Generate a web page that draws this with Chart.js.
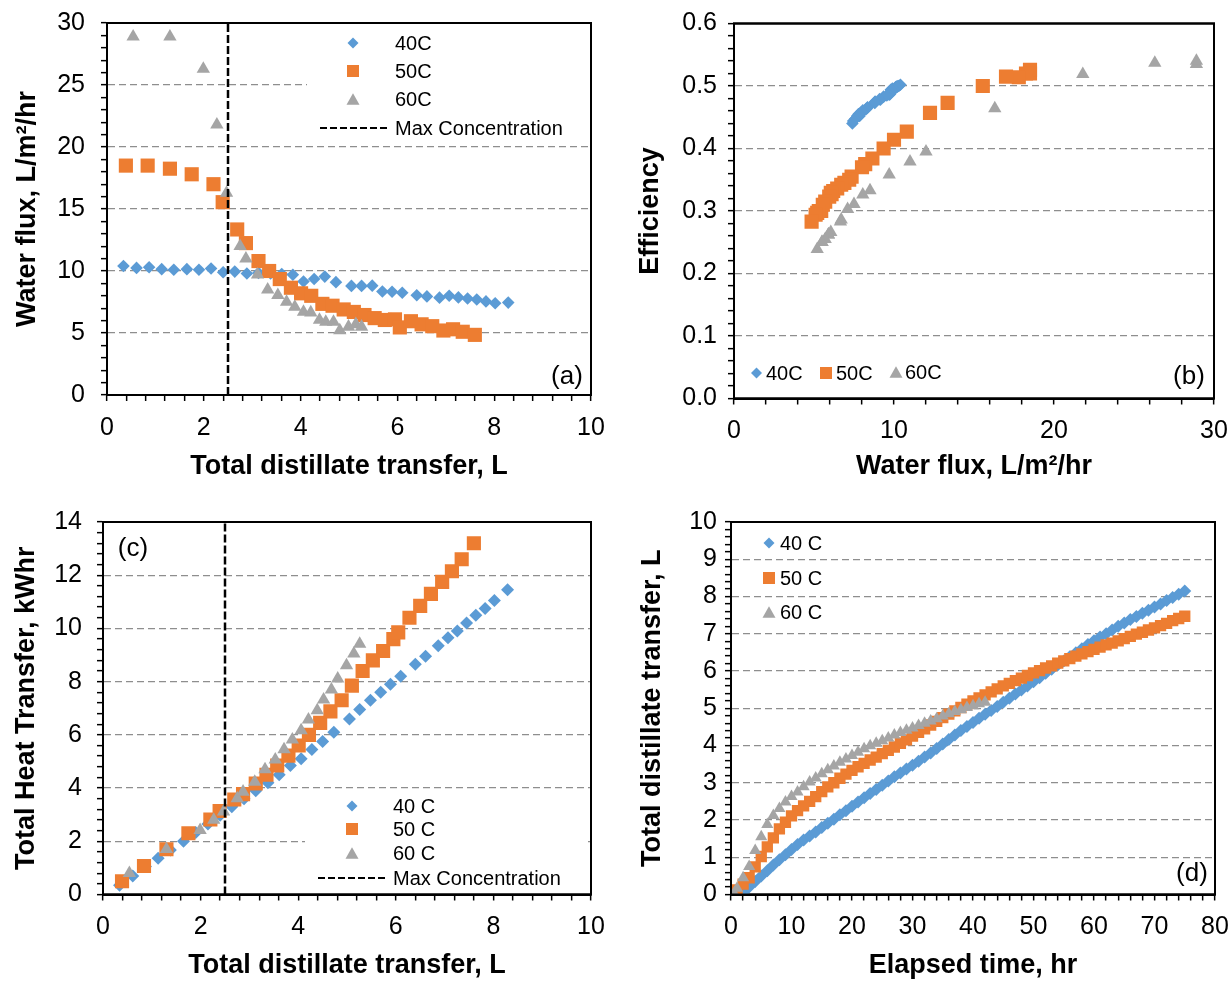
<!DOCTYPE html>
<html><head><meta charset="utf-8">
<script src="https://cdn.jsdelivr.net/npm/chart.js@4.4.1/dist/chart.umd.min.js"></script>
<style>
html,body{margin:0;padding:0;background:#fff;}
body{width:1231px;height:981px;position:relative;overflow:hidden;}
canvas{position:absolute;}
</style></head><body>
<canvas id="pa"></canvas><canvas id="pb"></canvas><canvas id="pc"></canvas><canvas id="pd"></canvas>
<script>
// ---------------- DATA ----------------
// Panels (a),(b),(c): one point per sample
const dist40 = [0.34,0.61,0.87,1.13,1.38,1.65,1.90,2.15,2.40,2.64,2.89,3.13,3.38,3.61,3.84,4.06,4.28,4.50,4.73,5.05,5.26,5.48,5.69,5.89,6.10,6.40,6.61,6.87,7.07,7.26,7.45,7.64,7.83,8.02,8.29];
const flux40 = [10.4,10.25,10.3,10.15,10.1,10.15,10.1,10.2,9.9,9.95,9.8,9.85,9.8,9.75,9.7,9.15,9.35,9.55,9.1,8.8,8.8,8.82,8.35,8.33,8.25,8.05,7.95,7.85,8.0,7.87,7.78,7.7,7.55,7.4,7.45];
const heat40 = [0.35,0.7,1.05,1.36,1.67,2.0,2.33,2.65,2.98,3.3,3.6,3.9,4.2,4.5,4.85,5.1,5.45,5.75,6.1,6.6,6.95,7.3,7.6,7.9,8.2,8.65,8.95,9.35,9.65,9.9,10.2,10.5,10.75,11.05,11.45];
const eff40  = [0.502,0.5,0.5,0.499,0.498,0.498,0.497,0.499,0.496,0.495,0.494,0.493,0.49,0.487,0.486,0.478,0.483,0.485,0.479,0.474,0.473,0.475,0.466,0.465,0.463,0.461,0.458,0.452,0.458,0.455,0.455,0.452,0.447,0.44,0.444];

const dist50 = [0.39,0.84,1.30,1.75,2.20,2.39,2.69,2.87,3.13,3.35,3.57,3.80,4.01,4.22,4.45,4.66,4.89,5.10,5.32,5.53,5.74,5.95,6.05,6.28,6.50,6.72,6.95,7.15,7.35,7.60];
const flux50 = [18.5,18.5,18.25,17.8,17.0,15.55,13.35,12.25,10.8,10.0,9.35,8.65,8.2,8.0,7.35,7.2,6.9,6.7,6.45,6.2,6.05,6.1,5.45,5.95,5.7,5.55,5.2,5.3,5.1,4.85];
const heat50 = [0.5,1.07,1.70,2.30,2.82,3.14,3.57,3.77,4.17,4.5,4.85,5.22,5.6,6.0,6.45,6.88,7.3,7.85,8.4,8.8,9.15,9.6,9.85,10.4,10.85,11.3,11.75,12.15,12.6,13.2];
const eff50  = [0.52,0.526,0.52,0.514,0.515,0.50,0.473,0.457,0.427,0.414,0.40,0.384,0.375,0.37,0.355,0.35,0.345,0.342,0.336,0.332,0.329,0.327,0.30,0.323,0.315,0.31,0.297,0.30,0.294,0.283];

const dist60 = [0.54,1.30,1.99,2.27,2.47,2.75,2.87,3.11,3.32,3.53,3.71,3.88,4.06,4.21,4.39,4.52,4.68,4.81,4.99,5.14,5.26];
const flux60 = [28.9,28.9,26.3,21.8,16.3,12.0,11.0,9.7,8.5,8.05,7.5,7.1,6.7,6.65,6.05,5.9,5.9,5.2,5.5,5.7,5.5];
const heat60 = [0.8,1.7,2.42,2.8,3.11,3.61,3.86,4.23,4.7,5.07,5.45,5.82,6.17,6.57,6.92,7.32,7.7,8.11,8.61,9.05,9.42];
const eff60  = [0.535,0.54,0.537,0.519,0.464,0.395,0.379,0.358,0.333,0.326,0.311,0.303,0.286,0.283,0.266,0.262,0.262,0.239,0.25,0.255,0.25];

const maxConcentration = 2.5;

// Panel (d): elapsed time (hr) vs total distillate (L)
const time40 = [2,3,4,5,6,7,8,9,10,11,12,13,14,15,16,17,18,19,20,21,22,23,24,25,26,27,28,29,30,31,32,33,34,35,36,37,38,39,40,41,42,43,44,45,46,47,48,49,50,51,52,53,54,55,56,57,58,59,60,61,62,63,64,65,66,67,68,69,70,71,72,73,74,75];
const tot40  = [0.05,0.20,0.35,0.50,0.64,0.79,0.93,1.07,1.21,1.34,1.46,1.57,1.68,1.80,1.91,2.02,2.14,2.25,2.37,2.48,2.60,2.71,2.82,2.93,3.05,3.16,3.26,3.37,3.47,3.58,3.69,3.80,3.92,4.04,4.16,4.28,4.40,4.51,4.62,4.73,4.84,4.94,5.05,5.16,5.27,5.38,5.49,5.60,5.71,5.82,5.94,6.05,6.16,6.27,6.38,6.49,6.60,6.71,6.81,6.91,7.00,7.10,7.20,7.29,7.38,7.46,7.55,7.63,7.72,7.80,7.89,7.97,8.06,8.15];
const time50 = [0.5,1,2,3,4,5,6,7,8,9,10,11,12,13,14,15,16,17,18,19,20,21,22,23,24,25,26,27,28,29,30,31,32,33,34,35,36,37,38,39,40,41,42,43,44,45,46,47,48,49,50,51,52,53,54,55,56,57,58,59,60,61,62,63,64,65,66,67,68,69,70,71,72,73,74,75];
const tot50  = [0.02,0.12,0.28,0.45,0.74,1.02,1.28,1.52,1.76,1.94,2.11,2.25,2.38,2.50,2.63,2.76,2.89,3.00,3.12,3.23,3.33,3.43,3.52,3.61,3.69,3.78,3.87,3.96,4.06,4.15,4.25,4.35,4.45,4.55,4.65,4.75,4.84,4.93,5.02,5.11,5.20,5.28,5.36,5.44,5.52,5.60,5.67,5.74,5.81,5.88,5.95,6.01,6.08,6.14,6.21,6.27,6.33,6.40,6.46,6.52,6.58,6.64,6.70,6.75,6.81,6.87,6.93,6.99,7.04,7.10,7.16,7.22,7.28,7.35,7.41,7.47];
const time60 = [0.5,1,2,3,4,5,6,7,8,9,10,11,12,13,14,15,16,17,18,19,20,21,22,23,24,25,26,27,28,29,30,31,32,33,34,35,36,37,38,39,40,41,42];
const tot60  = [0.03,0.17,0.45,0.75,1.18,1.55,1.88,2.12,2.31,2.48,2.63,2.75,2.89,3.02,3.13,3.24,3.35,3.45,3.55,3.64,3.73,3.82,3.91,3.99,4.06,4.13,4.20,4.28,4.35,4.41,4.47,4.54,4.60,4.66,4.72,4.79,4.85,4.91,4.96,5.02,5.07,5.12,5.16];

const seriesAB = ['40C','50C','60C'];
const seriesCD = ['40 C','50 C','60 C'];
const maxLabel = 'Max Concentration';

// ---------------- STYLE / LAYOUT ----------------
const FONT = "'Liberation Sans', Arial, Helvetica, sans-serif";
const C40 = '#5B9BD5', C50 = '#ED7D31', C60 = '#A5A5A5';
const GRID = '#8E8E8E';
const TICK_FONT = 25, TITLE_FONT = 27, LEG_FONT = 20, LAB_FONT = 26;

const GEO = {
  a: {cx:0,   cy:0,   cw:615, ch:490, l:107, t:23,   r:591,  b:395},
  b: {cx:615, cy:0,   cw:616, ch:490, l:734, t:23.5, r:1214, b:398.5},
  c: {cx:0,   cy:490, cw:615, ch:491, l:103, t:522,  r:591,  b:894.5},
  d: {cx:615, cy:490, cw:616, ch:491, l:731, t:522,  r:1215, b:894.5}
};

function drawMarker(ctx, style, x, y, s, color) {
  ctx.save(); ctx.fillStyle = color; ctx.beginPath();
  if (style === 'diamond') { ctx.moveTo(x, y - s/2); ctx.lineTo(x + s/2, y); ctx.lineTo(x, y + s/2); ctx.lineTo(x - s/2, y); }
  else if (style === 'square') { ctx.rect(x - s/2, y - s/2, s, s); }
  else { const h = s * 0.866; ctx.moveTo(x, y - h/2); ctx.lineTo(x + s/2, y + h/2); ctx.lineTo(x - s/2, y + h/2); }
  ctx.closePath(); ctx.fill(); ctx.restore();
}

function isMul(v, step) { const q = v / step; return Math.abs(q - Math.round(q)) < 1e-6; }

function axis(o) {
  return {
    type: 'linear', position: o.pos, min: o.min, max: o.max,
    afterBuildTicks: s => {
      const n = Math.round((o.max - o.min) / o.minor), t = [];
      for (let i = 0; i <= n; i++) t.push({value: +(o.min + i * o.minor).toFixed(6)});
      s.ticks = t;
    },
    afterFit: s => {
      if (o.pos === 'left') s.width = o.size; else s.height = o.size;
      s.paddingLeft = 0; s.paddingRight = 0; s.paddingTop = 0; s.paddingBottom = 0;
    },
    ticks: {
      autoSkip: false, maxRotation: 0, minRotation: 0, padding: o.labelPad, color: '#000',
      font: {family: FONT, size: TICK_FONT, lineHeight: 1.2},
      callback: v => isMul(v, o.major) ? v.toFixed(o.dec || 0) : ''
    },
    grid: {
      drawOnChartArea: !!o.grid,
      color: c => (c.tick && isMul(c.tick.value, o.major) && c.tick.value > o.min + 1e-9 && c.tick.value < o.max - 1e-9) ? GRID : 'rgba(0,0,0,0)',
      lineWidth: 1.3, tickLength: 6, tickWidth: 1.5, tickColor: '#000'
    },
    border: {display: true, color: '#000', width: 2, dash: [7, 4]},
    title: {display: true, text: o.title, color: '#000',
      font: {family: FONT, size: TITLE_FONT, weight: 'bold', lineHeight: 1},
      padding: {top: o.titlePad, bottom: o.titlePad}}
  };
}

function pts(xs, ys) { return xs.map((x, i) => ({x: x, y: ys[i]})); }

function ds(label, xs, ys, style, r, color, order) {
  return {label, data: pts(xs, ys), pointStyle: style, pointRadius: r, pointHoverRadius: r,
    backgroundColor: color, borderColor: color, pointBorderWidth: 0, borderWidth: 0, showLine: false, order};
}

function frame(chart) {
  const {ctx, chartArea: a} = chart;
  ctx.save(); ctx.strokeStyle = '#000'; ctx.lineWidth = 2;
  ctx.strokeRect(a.left, a.top, a.right - a.left, a.bottom - a.top);
  ctx.restore();
}

function panel(id, g, xAxis, yAxis, datasets, deco) {
  const cv = document.getElementById(id);
  cv.width = g.cw; cv.height = g.ch;
  cv.style.left = g.cx + 'px'; cv.style.top = g.cy + 'px';
  cv.style.width = g.cw + 'px'; cv.style.height = g.ch + 'px';
  const overlay = {
    id: 'overlay_' + id,
    beforeDatasetsDraw(chart) { frame(chart); },
    afterDraw(chart) {
      const ctx = chart.ctx;
      ctx.save(); ctx.translate(-g.cx, -g.cy);
      if (deco.box) { ctx.fillStyle = '#fff'; ctx.fillRect(deco.box.x, deco.box.y, deco.box.w, deco.box.h); }
      ctx.font = LEG_FONT + 'px ' + FONT; ctx.textBaseline = 'middle'; ctx.textAlign = 'left';
      for (const it of deco.items) {
        if (it.line) {
          ctx.save(); ctx.strokeStyle = '#000'; ctx.lineWidth = 2; ctx.setLineDash([7, 3]);
          ctx.beginPath(); ctx.moveTo(it.x1, it.y); ctx.lineTo(it.x2, it.y); ctx.stroke(); ctx.restore();
        } else drawMarker(ctx, it.style, it.mx, it.y, it.size, it.color);
        ctx.fillStyle = '#000'; ctx.fillText(it.text, it.tx, it.y + 1);
      }
      if (deco.label) {
        ctx.font = LAB_FONT + 'px ' + FONT; ctx.textAlign = 'center'; ctx.fillStyle = '#000';
        ctx.fillText(deco.label.text, deco.label.x, deco.label.y + 1);
      }
      ctx.restore();
      frame(chart);
    }
  };
  return new Chart(cv, {
    type: 'scatter',
    data: {datasets},
    options: {
      responsive: false, animation: false, devicePixelRatio: 1, events: [],
      layout: {padding: {left: 0, top: g.t - g.cy, right: g.cx + g.cw - g.r, bottom: 0}},
      plugins: {legend: {display: false}, tooltip: {enabled: false}, title: {display: false}},
      scales: {x: xAxis, y: yAxis}
    },
    plugins: [overlay]
  });
}

function maxLine(ymax) {
  return {label: maxLabel, data: [{x: maxConcentration, y: 0}, {x: maxConcentration, y: ymax}],
    showLine: true, borderColor: '#000', borderWidth: 2.5, borderDash: [8, 3], pointRadius: 0, order: -1};
}

// ---------- (a) ----------
let g = GEO.a;
panel('pa', g,
  axis({pos: 'bottom', min: 0, max: 10, major: 2, minor: 0.4, size: g.cy + g.ch - g.b, labelPad: 12, title: 'Total distillate transfer, L', titlePad: 10}),
  axis({pos: 'left', min: 0, max: 30, major: 5, minor: 1, size: g.l - g.cx, labelPad: 16, grid: true, title: 'Water flux, L/m\u00B2/hr', titlePad: 14}),
  [ds(seriesAB[0], dist40, flux40, 'rectRot', 6.3, C40, 3),
   ds(seriesAB[1], dist50, flux50, 'rect', 10, C50, 2),
   ds(seriesAB[2], dist60, flux60, 'triangle', 7.7, C60, 1),
   maxLine(30)],
  {box: {x: 307, y: 28, w: 281, h: 112},
   items: [{style: 'diamond', color: C40, mx: 353, y: 43, size: 11, text: seriesAB[0], tx: 395},
           {style: 'square', color: C50, mx: 353, y: 71, size: 12, text: seriesAB[1], tx: 395},
           {style: 'triangle', color: C60, mx: 353, y: 99, size: 13, text: seriesAB[2], tx: 395},
           {line: true, x1: 320, x2: 388, y: 128, text: maxLabel, tx: 395}],
   label: {text: '(a)', x: 567, y: 376}});

// ---------- (b) ----------
g = GEO.b;
panel('pb', g,
  axis({pos: 'bottom', min: 0, max: 30, major: 10, minor: 2, size: g.cy + g.ch - g.b, labelPad: 12, title: 'Water flux, L/m\u00B2/hr', titlePad: 10}),
  axis({pos: 'left', min: 0, max: 0.6, major: 0.1, minor: 0.02, dec: 1, size: g.l - g.cx, labelPad: 11, grid: true, title: 'Efficiency', titlePad: 22}),
  [ds(seriesAB[0], flux40, eff40, 'rectRot', 6.3, C40, 3),
   ds(seriesAB[1], flux50, eff50, 'rect', 10, C50, 2),
   ds(seriesAB[2], flux60, eff60, 'triangle', 7.7, C60, 1)],
  {items: [{style: 'diamond', color: C40, mx: 756.5, y: 373, size: 11, text: seriesAB[0], tx: 766},
           {style: 'square', color: C50, mx: 826, y: 373, size: 12, text: seriesAB[1], tx: 836},
           {style: 'triangle', color: C60, mx: 896, y: 372, size: 13, text: seriesAB[2], tx: 905}],
   label: {text: '(b)', x: 1189, y: 376}});

// ---------- (c) ----------
g = GEO.c;
panel('pc', g,
  axis({pos: 'bottom', min: 0, max: 10, major: 2, minor: 0.4, size: g.cy + g.ch - g.b, labelPad: 12, title: 'Total distillate transfer, L', titlePad: 2}),
  axis({pos: 'left', min: 0, max: 14, major: 2, minor: 0.4, size: g.l - g.cx, labelPad: 15, grid: true, title: 'Total Heat Transfer, kWhr', titlePad: 13}),
  [ds(seriesCD[0], dist40, heat40, 'rectRot', 6.5, C40, 3),
   ds(seriesCD[1], dist50, heat50, 'rect', 10, C50, 2),
   ds(seriesCD[2], dist60, heat60, 'triangle', 7.7, C60, 1),
   maxLine(14)],
  {box: {x: 305, y: 792, w: 283, h: 99},
   items: [{style: 'diamond', color: C40, mx: 352, y: 806, size: 11, text: seriesCD[0], tx: 393},
           {style: 'square', color: C50, mx: 352, y: 829, size: 12, text: seriesCD[1], tx: 393},
           {style: 'triangle', color: C60, mx: 352, y: 853, size: 13, text: seriesCD[2], tx: 393},
           {line: true, x1: 318, x2: 387, y: 878, text: maxLabel, tx: 393}],
   label: {text: '(c)', x: 133, y: 548}});

// ---------- (d) ----------
g = GEO.d;
panel('pd', g,
  axis({pos: 'bottom', min: 0, max: 80, major: 10, minor: 2, size: g.cy + g.ch - g.b, labelPad: 12, title: 'Elapsed time, hr', titlePad: 2}),
  axis({pos: 'left', min: 0, max: 10, major: 1, minor: 0.2, size: g.l - g.cx, labelPad: 8, grid: true, title: 'Total distillate transfer, L', titlePad: 24}),
  [ds(seriesCD[0], time40, tot40, 'rectRot', 6.5, C40, 3),
   ds(seriesCD[1], time50, tot50, 'rect', 8, C50, 2),
   ds(seriesCD[2], time60, tot60, 'triangle', 7, C60, 1)],
  {items: [{style: 'diamond', color: C40, mx: 769, y: 543, size: 11, text: seriesCD[0], tx: 780},
           {style: 'square', color: C50, mx: 769, y: 578, size: 12, text: seriesCD[1], tx: 780},
           {style: 'triangle', color: C60, mx: 769, y: 612, size: 13, text: seriesCD[2], tx: 780}],
   label: {text: '(d)', x: 1192, y: 873}});
</script>
</body></html>
